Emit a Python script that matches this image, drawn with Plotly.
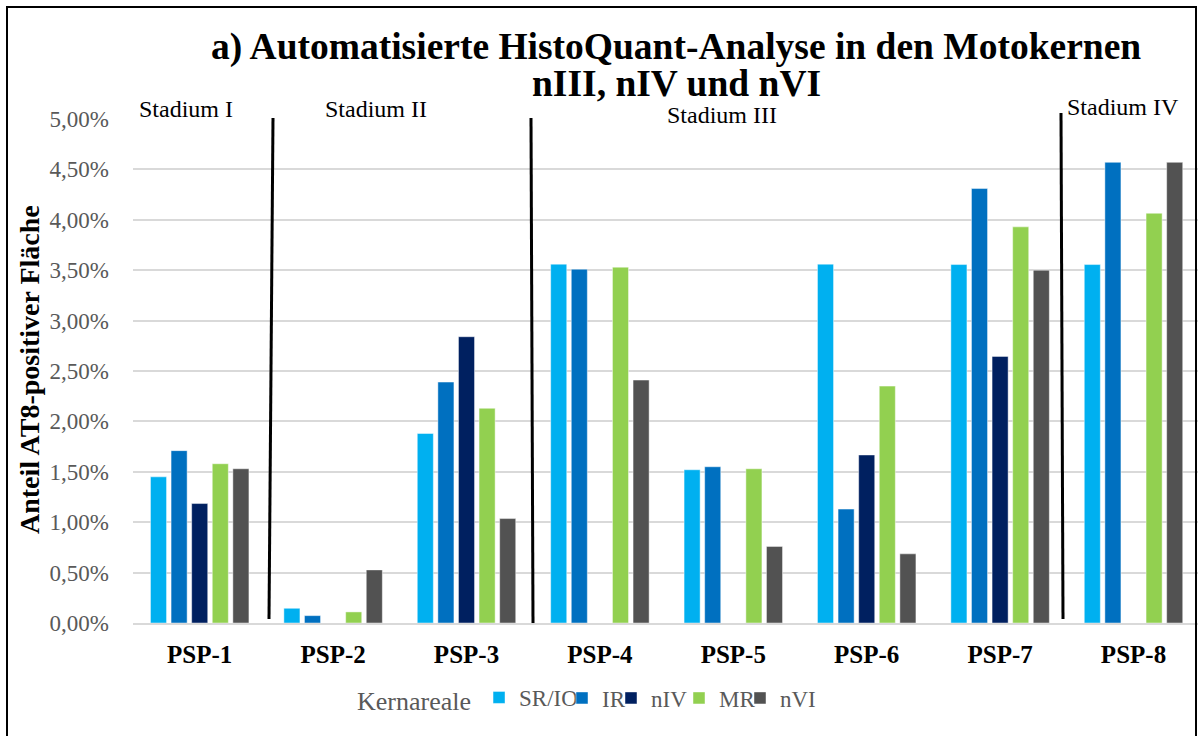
import plotly.graph_objects as go

# ---------------- data ----------------
categories = ["PSP-1", "PSP-2", "PSP-3", "PSP-4", "PSP-5", "PSP-6", "PSP-7", "PSP-8"]
series_names = ["SR/IO", "IR", "nIV", "MR", "nVI"]
sr_io = [1.45, 0.146, 1.88, 3.56, 1.52, 3.56, 3.556, 3.556]
ir = [1.71, 0.073, 2.39, 3.51, 1.55, 1.13, 4.31, 4.57]
n_iv = [1.185, None, 2.84, None, None, 1.667, 2.645, None]
mr = [1.58, 0.11, 2.13, 3.53, 1.53, 2.35, 3.93, 4.065]
n_vi = [1.53, 0.527, 1.036, 2.41, 0.76, 0.686, 3.50, 4.57]
stage_labels = ["Stadium I", "Stadium II", "Stadium III", "Stadium IV"]
title_lines = ["a) Automatisierte HistoQuant-Analyse in den Motokernen", "nIII, nIV und nVI"]
y_title = "Anteil AT8-positiver Fläche"
legend_title = "Kernareale"

colors = ["#00B0F0", "#0070C0", "#002060", "#92D050", "#525252"]

# ---------------- layout geometry (page pixels) ----------------
W, H = 1198, 736
PL, PR, PT, PB = 133, 1198, 119, 623
FONT = "Liberation Serif"


def px_x(px):
    return (px - PL) / (PR - PL)


def px_y(py):
    return (PB - py) / (PB - PT)


fig = go.Figure()
all_values = [sr_io, ir, n_iv, mr, n_vi]
legend_ids = ["legend", "legend2", "legend3", "legend4", "legend5"]
for name, vals, col, lg in zip(series_names, all_values, colors, legend_ids):
    fig.add_trace(go.Bar(
        x=categories,
        y=[None if v is None else v / 100 for v in vals],
        name=name,
        marker=dict(color=col, line=dict(color="rgba(255,255,255,0.45)", width=1)),
        legend=lg,
    ))

# stage labels (text) positions in page px
stage_pos = [(186, 109), (376, 109), (722, 115), (1123, 107)]
annotations = []
for txt, (x, y) in zip(stage_labels, stage_pos):
    annotations.append(dict(text=txt, x=px_x(x), y=px_y(y), xref="paper", yref="paper",
                            xanchor="center", yanchor="middle", showarrow=False, borderpad=0,
                            font=dict(family=FONT, size=24, color="black")))
# title lines
for txt, y in zip(title_lines, (47, 83)):
    annotations.append(dict(text="<b>" + txt + "</b>", x=px_x(676), y=px_y(y), xref="paper", yref="paper",
                            xanchor="center", yanchor="middle", showarrow=False, borderpad=0,
                            font=dict(family=FONT, size=37.5, color="black")))
# y axis title
annotations.append(dict(text="<b>" + y_title + "</b>", x=px_x(29), y=px_y(370), xref="paper", yref="paper",
                        xanchor="center", yanchor="middle", showarrow=False, textangle=-90,
                        font=dict(family=FONT, size=28, color="black")))

# stage separator lines (page px endpoints)
separators = [((273, 118), (269, 619)), ((531, 118), (533, 623)), ((1061, 113), (1063, 619))]
shapes = []
for (x0, y0), (x1, y1) in separators:
    shapes.append(dict(type="line", xref="paper", yref="paper",
                       x0=px_x(x0), y0=px_y(y0), x1=px_x(x1), y1=px_y(y1),
                       line=dict(color="black", width=3)))
# outer chart border
shapes.append(dict(type="rect", xref="paper", yref="paper",
                   x0=px_x(7), y0=px_y(780), x1=px_x(1196), y1=px_y(7),
                   line=dict(color="black", width=2), fillcolor="rgba(0,0,0,0)"))

leg_font = dict(family=FONT, size=23, color="#595959")
legend_common = dict(orientation="h", yanchor="middle", xanchor="left", bgcolor="rgba(0,0,0,0)",
                     font=leg_font, borderwidth=0, itemclick=False, itemdoubleclick=False)
legend_y = px_y(698)
square_left = [494, 580, 629, 697, 758]

layout_legends = {}
layout_legends["legend"] = dict(legend_common, x=px_x(355), y=legend_y,
                                title=dict(text=legend_title, side="left",
                                           font=dict(family=FONT, size=26, color="#595959")))
for lg, sx in zip(legend_ids[1:], square_left[1:]):
    layout_legends[lg] = dict(legend_common, x=px_x(sx - 18), y=legend_y)

fig.update_layout(
    width=W, height=H,
    margin=dict(l=PL, r=W - PR, t=PT, b=H - PB, autoexpand=False),
    paper_bgcolor="white", plot_bgcolor="white",
    separators=",.",
    barmode="group", bargap=0.228, bargroupgap=0.22,
    font=dict(family=FONT),
    xaxis=dict(range=[-0.5, -0.5 + (PR - PL) / 133.4], showgrid=False, zeroline=False,
               showline=True, linecolor="#d9d9d9", linewidth=2, ticks="",
               tickfont=dict(family=FONT, size=25, color="black", weight="bold"),
               ticklabelstandoff=8, fixedrange=True),
    yaxis=dict(range=[0, 0.05], dtick=0.005, tick0=0, tickformat=".2%",
               showgrid=True, gridcolor="#d9d9d9", gridwidth=2, zeroline=False,
               ticks="", tickfont=dict(family=FONT, size=23, color="#595959"),
               ticklabelstandoff=23, fixedrange=True),
    annotations=annotations,
    shapes=shapes,
    showlegend=True,
    **layout_legends,
)

fig.write_html("out.html",
               config={"displayModeBar": False, "staticPlot": True},
               post_script="document.body.style.margin='0';document.body.style.overflow='hidden';")
